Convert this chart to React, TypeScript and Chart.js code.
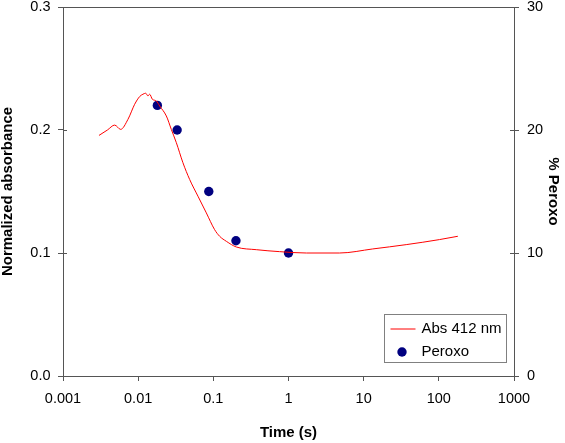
import React, { useEffect, useRef } from 'react';
import { Chart, registerables } from 'chart.js';

Chart.register(...registerables);

// Absorbance trace at 412 nm (time in s, normalized absorbance)
const absTime = [0.00301, 0.0039, 0.00487, 0.00585, 0.00732, 0.00898, 0.01047, 0.01158, 0.01259, 0.0135, 0.01422, 0.01545, 0.01746, 0.01932, 0.0237, 0.0276, 0.0322, 0.0394, 0.0484, 0.0624, 0.0807, 0.104, 0.1213, 0.149, 0.202, 0.373, 0.762, 1.73, 4.78, 13.2, 36.8, 102, 179];
const absValue = [0.1956, 0.2, 0.204, 0.2005, 0.2087, 0.2209, 0.2272, 0.2291, 0.2299, 0.2277, 0.2291, 0.225, 0.2236, 0.2195, 0.2114, 0.2005, 0.1897, 0.1734, 0.1598, 0.1462, 0.1326, 0.119, 0.1136, 0.1095, 0.1049, 0.1027, 0.1011, 0.1, 0.1, 0.1033, 0.1068, 0.1109, 0.1136];

// Peroxo percentage points
const peroxoTime = [0.018, 0.033, 0.087, 0.2, 1.0];
const peroxoPercent = [22, 20, 15, 11, 10];

const xTickValues = [0.001, 0.01, 0.1, 1, 10, 100, 1000];
const xTickLabels = ['0.001', '0.01', '0.1', '1', '10', '100', '1000'];
const yLeftTicks = [0, 0.1, 0.2, 0.3];
const yLeftLabels = ['0.0', '0.1', '0.2', '0.3'];
const yRightTicks = [0, 10, 20, 30];
const yRightLabels = ['0', '10', '20', '30'];

const FONT = "'Liberation Sans', Arial, sans-serif";
const AXIS = '#555555';

const framePlugin = {
  id: 'frameAndLegend',
  afterDraw(chart: any) {
    const { ctx, chartArea: a, scales } = chart;
    ctx.save();
    ctx.strokeStyle = AXIS;
    ctx.lineWidth = 1;
    // top border
    const topY = Math.round(a.top) + 0.5;
    ctx.beginPath();
    ctx.moveTo(a.left, topY);
    ctx.lineTo(a.right, topY);
    ctx.stroke();
    // inner tick parts
    ctx.beginPath();
    yLeftTicks.forEach((v) => {
      const py = Math.round(scales.y.getPixelForValue(v)) + 0.5;
      ctx.moveTo(a.left, py);
      ctx.lineTo(a.left + 4, py);
    });
    yRightTicks.forEach((v) => {
      const py = Math.round(scales.y1.getPixelForValue(v)) + 0.5;
      ctx.moveTo(a.right - 4, py);
      ctx.lineTo(a.right, py);
    });
    ctx.stroke();

    // legend box
    const ds = chart.data.datasets;
    const bw = 122, bh = 48;
    const bx = Math.round(a.right - 8 - bw) + 0.5;
    const by = Math.round(a.bottom - 14 - bh) + 0.5;
    ctx.fillStyle = '#ffffff';
    ctx.fillRect(bx, by, bw, bh);
    ctx.strokeStyle = '#808080';
    ctx.strokeRect(bx, by, bw, bh);
    // entry 1: line
    const y1 = by + 14.5;
    ctx.strokeStyle = ds[0].borderColor;
    ctx.lineWidth = 1;
    ctx.beginPath();
    ctx.moveTo(bx + 6, y1);
    ctx.lineTo(bx + 31, y1);
    ctx.stroke();
    // entry 2: dot
    const y2 = by + 37.5;
    ctx.fillStyle = ds[1].backgroundColor;
    ctx.beginPath();
    ctx.arc(bx + 17.5, y2, 4.7, 0, Math.PI * 2);
    ctx.fill();
    ctx.fillStyle = '#000000';
    ctx.font = `15px ${FONT}`;
    ctx.textBaseline = 'middle';
    ctx.textAlign = 'left';
    ctx.fillText(ds[0].label, bx + 37, y1);
    ctx.fillText(ds[1].label, bx + 37, y2);
    ctx.restore();
  },
};

export default function App() {
  const ref = useRef<HTMLCanvasElement | null>(null);

  useEffect(() => {
    document.body.style.margin = '0';
    const canvas = ref.current;
    if (!canvas) return;
    const tickFont = { family: FONT, size: 14.5 };
    const titleFont = { family: FONT, size: 15, weight: 'bold' as const, lineHeight: 1 };
    const chart = new Chart(canvas, {
      type: 'line',
      data: {
        datasets: [
          {
            label: 'Abs 412 nm',
            data: absTime.map((t, i) => ({ x: t, y: absValue[i] })),
            borderColor: '#ff0000',
            borderWidth: 1,
            pointRadius: 0,
            fill: false,
            cubicInterpolationMode: 'monotone',
            yAxisID: 'y',
          },
          {
            label: 'Peroxo',
            data: peroxoTime.map((t, i) => ({ x: t, y: peroxoPercent[i] })),
            showLine: false,
            pointRadius: 4.7,
            pointBorderWidth: 0,
            backgroundColor: '#000080',
            borderColor: '#000080',
            yAxisID: 'y1',
          },
        ],
      },
      options: {
        responsive: false,
        animation: false,
        layout: { padding: { top: 7, left: 0, right: 0, bottom: 0 } },
        plugins: { legend: { display: false }, tooltip: { enabled: false } },
        scales: {
          x: {
            type: 'logarithmic',
            position: 'bottom',
            min: 0.001,
            max: 1000,
            afterBuildTicks: (scale: any) => {
              scale.ticks = xTickValues.map((v) => ({ value: v }));
            },
            afterFit: (scale: any) => {
              scale.height = 67;
              scale.paddingLeft = 0;
              scale.paddingRight = 0;
            },
            ticks: {
              autoSkip: false,
              maxRotation: 0,
              font: tickFont,
              color: '#000000',
              padding: 9,
              callback: (_v: any, i: number) => xTickLabels[i],
            },
            grid: { drawOnChartArea: false, drawTicks: true, tickLength: 5, color: AXIS },
            border: { display: true, color: AXIS, width: 1 },
            title: {
              display: true,
              text: 'Time (s)',
              font: titleFont,
              color: '#000000',
              padding: { top: 0, bottom: 3 },
            },
          },
          y: {
            type: 'linear',
            position: 'left',
            min: 0,
            max: 0.3,
            afterBuildTicks: (scale: any) => {
              scale.ticks = yLeftTicks.map((v) => ({ value: v }));
            },
            afterFit: (scale: any) => {
              scale.width = 63;
              scale.paddingTop = 0;
              scale.paddingBottom = 0;
            },
            ticks: {
              font: tickFont,
              color: '#000000',
              padding: 7.5,
              callback: (_v: any, i: number) => yLeftLabels[i],
            },
            grid: { drawOnChartArea: false, drawTicks: true, tickLength: 5, color: AXIS },
            border: { display: true, color: AXIS, width: 1 },
            title: {
              display: true,
              text: 'Normalized absorbance',
              font: titleFont,
              color: '#000000',
              padding: { top: 0, bottom: 0 },
            },
          },
          y1: {
            type: 'linear',
            position: 'right',
            min: 0,
            max: 30,
            afterBuildTicks: (scale: any) => {
              scale.ticks = yRightTicks.map((v) => ({ value: v }));
            },
            afterFit: (scale: any) => {
              scale.width = 51;
              scale.paddingTop = 0;
              scale.paddingBottom = 0;
            },
            ticks: {
              font: tickFont,
              color: '#000000',
              padding: 8,
              callback: (_v: any, i: number) => yRightLabels[i],
            },
            grid: { drawOnChartArea: false, drawTicks: true, tickLength: 5, color: AXIS },
            border: { display: true, color: AXIS, width: 1 },
            title: {
              display: true,
              text: '% Peroxo',
              font: titleFont,
              color: '#000000',
              padding: { top: 4, bottom: 0 },
            },
          },
        },
      },
      plugins: [framePlugin],
    });
    return () => chart.destroy();
  }, []);

  return <canvas ref={ref} width={565} height={443} style={{ display: 'block', width: 565, height: 443 }} />;
}
